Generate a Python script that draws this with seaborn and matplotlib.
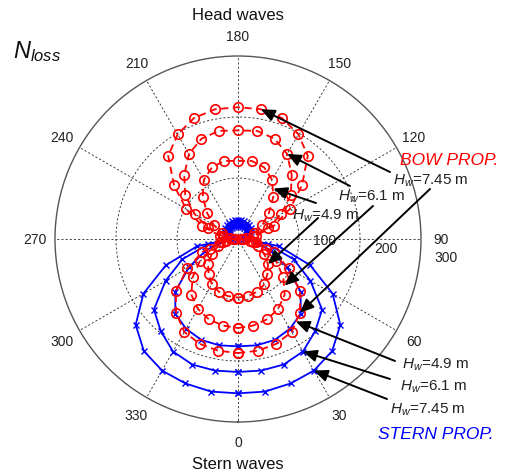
import numpy as np
import pandas as pd
import matplotlib
matplotlib.use("Agg")
import matplotlib.pyplot as plt
import seaborn as sns

# Wave heading in degrees: 0 = stern waves, 180 = head waves
heading = list(range(0, 361, 10))

# Number of propeller losses, bow propeller (one list per significant wave height)
bow_hw49 = [96, 95, 92, 86, 75, 64, 50, 35, 20, 5, 14, 28, 46, 66, 90, 112, 125, 130, 128,
            130, 125, 112, 90, 66, 46, 28, 14, 5, 20, 35, 50, 64, 75, 86, 92, 95, 96]
bow_hw61 = [146, 144, 140, 132, 119, 97, 72, 48, 25, 7, 25, 52, 82, 113, 137, 161, 175, 180, 178,
            180, 175, 161, 137, 113, 82, 52, 25, 7, 25, 48, 72, 97, 119, 132, 140, 144, 146]
bow_hw745 = [187, 186, 183, 176, 158, 133, 96, 62, 30, 8, 30, 62, 98, 137, 178, 198, 211, 216, 216,
             216, 211, 198, 178, 137, 98, 62, 30, 8, 30, 62, 96, 133, 158, 176, 183, 186, 187]

# Number of propeller losses, stern propeller
stern_hw49 = [176, 177, 176, 170, 160, 134, 93, 57, 28, 8, 12, 15, 17, 19, 20, 21, 21, 21, 21,
              21, 21, 21, 20, 19, 17, 15, 12, 8, 28, 57, 93, 134, 160, 170, 176, 177, 176]
stern_hw61 = [218, 219, 219, 213, 197, 180, 137, 97, 50, 10, 15, 19, 21, 23, 24, 25, 25, 26, 26,
              26, 25, 25, 24, 23, 21, 19, 15, 10, 50, 97, 137, 180, 197, 213, 219, 219, 218]
stern_hw745 = [253, 254, 252, 249, 240, 219, 179, 126, 68, 12, 18, 22, 25, 27, 29, 30, 31, 31, 31,
               31, 31, 30, 29, 27, 25, 22, 18, 12, 68, 126, 179, 219, 240, 249, 252, 254, 253]

wave_heights = ["4.9", "6.1", "7.45"]
angle_ticks = list(range(0, 360, 30))
radius_ticks = [100, 200, 300]

sns.set_theme(style="white")
plt.rcParams["font.family"] = ["Liberation Sans", "DejaVu Sans"]
plt.rcParams["mathtext.fontset"] = "custom"
plt.rcParams["mathtext.rm"] = "Liberation Sans"
plt.rcParams["mathtext.it"] = "Liberation Sans:italic"


def long_frame(curves):
    parts = []
    for hw, values in zip(wave_heights, curves):
        parts.append(pd.DataFrame({"theta": np.deg2rad(heading), "nloss": values, "Hw": hw}))
    return pd.concat(parts, ignore_index=True)


bow = long_frame([bow_hw49, bow_hw61, bow_hw745])
stern = long_frame([stern_hw49, stern_hw61, stern_hw745])

W, H = 507, 477
fig = plt.figure(figsize=(W / 100, H / 100), dpi=100)
fig.patch.set_facecolor("white")
cx, cy, R = 238, 240, 183
ax = fig.add_axes([(cx - R) / W, (H - cy - R) / H, 2 * R / W, 2 * R / H], projection="polar")
ax.set_facecolor("white")

sns.lineplot(data=stern, x="theta", y="nloss", units="Hw", estimator=None, sort=False,
             color="#0000ff", lw=1.3, marker="x", ms=4, mew=1.0, mec="#0000ff",
             ax=ax, legend=False)
sns.lineplot(data=bow, x="theta", y="nloss", units="Hw", estimator=None, sort=False,
             color="#ff0000", lw=1.3, linestyle=(0, (4, 2.5)), marker="o", ms=6.8,
             mfc="none", mec="#ff0000", mew=1.2, ax=ax, legend=False)

ax.set_theta_zero_location("S")
ax.set_theta_direction(1)
ax.set_ylim(0, 300)
ax.set_xlabel("")
ax.set_ylabel("")
ax.set_xticks(np.deg2rad(angle_ticks))
ax.set_xticklabels([])
ax.set_yticks(radius_ticks[:-1])
ax.set_yticklabels([])
ax.grid(True, color="#222222", lw=0.6, ls=(0, (2.5, 2.5)))
ax.spines["polar"].set_color("#555555")
ax.spines["polar"].set_linewidth(1.0)

for t in angle_ticks:
    ax.text(np.deg2rad(t), 333, str(t), ha="center", va="center", fontsize=10,
            color="#222222", clip_on=False)
for r in radius_ticks:
    ax.annotate(str(r), xy=(np.deg2rad(82), r), xytext=(15, 3.5), textcoords="offset pixels",
                ha="left", va="baseline", fontsize=10, color="#222222", annotation_clip=False)


def px(x, y):
    return (x / W, 1 - y / H)


fig.text(*px(238, 16), "Head waves", ha="center", va="center", fontsize=12, color="#111111")
fig.text(*px(238, 465), "Stern waves", ha="center", va="center", fontsize=12, color="#111111")
fig.text(*px(13, 58), r"$N_{loss}$", ha="left", va="baseline", fontsize=17, color="#111111")

arrow = dict(arrowstyle="-|>,head_length=0.55,head_width=0.24", color="black", lw=1.4,
             mutation_scale=15, shrinkA=0, shrinkB=0)


def point(values, deg):
    if deg in heading:
        return (np.deg2rad(deg), values[heading.index(deg)])
    lo = heading.index(deg - 5)
    return (np.deg2rad(deg), (values[lo] + values[lo + 1]) / 2)


def pointer(values, deg, start):
    ax.annotate("", xy=point(values, deg), xycoords="data", xytext=px(*start),
                textcoords="figure fraction", arrowprops=arrow, annotation_clip=False)


# Bow propeller: labels with arrows to the head-wave lobe and the stern-wave lobe
pointer(bow_hw745, 170, (390, 173))
pointer(bow_hw61, 150, (350, 187))
pointer(bow_hw49, 145, (316, 204))
pointer(bow_hw49, 50, (318, 219))
pointer(bow_hw61, 45, (373, 207))
pointer(bow_hw745, 40, (430, 190))

# Stern propeller
pointer(stern_hw49, 35, (395, 362))
pointer(stern_hw61, 30, (390, 380))
pointer(stern_hw745, 30, (387, 400))

fig.text(*px(400, 165), "BOW PROP.", color="#ff0000", style="italic", fontsize=12.5,
         va="baseline")
fig.text(*px(393, 185), r"$H_w$=7.45 m", fontsize=11, va="baseline", color="#222222")
fig.text(*px(338, 201), r"$H_w$=6.1 m", fontsize=11, va="baseline", color="#222222")
fig.text(*px(292, 220), r"$H_w$=4.9 m", fontsize=11, va="baseline", color="#222222")

fig.text(*px(402, 369), r"$H_w$=4.9 m", fontsize=11, va="baseline", color="#222222")
fig.text(*px(400, 391), r"$H_w$=6.1 m", fontsize=11, va="baseline", color="#222222")
fig.text(*px(390, 414), r"$H_w$=7.45 m", fontsize=11, va="baseline", color="#222222")
fig.text(*px(378, 439), "STERN PROP.", color="#0000ff", style="italic", fontsize=12.5,
         va="baseline")

fig.savefig("out.png", dpi=100, facecolor="white")
